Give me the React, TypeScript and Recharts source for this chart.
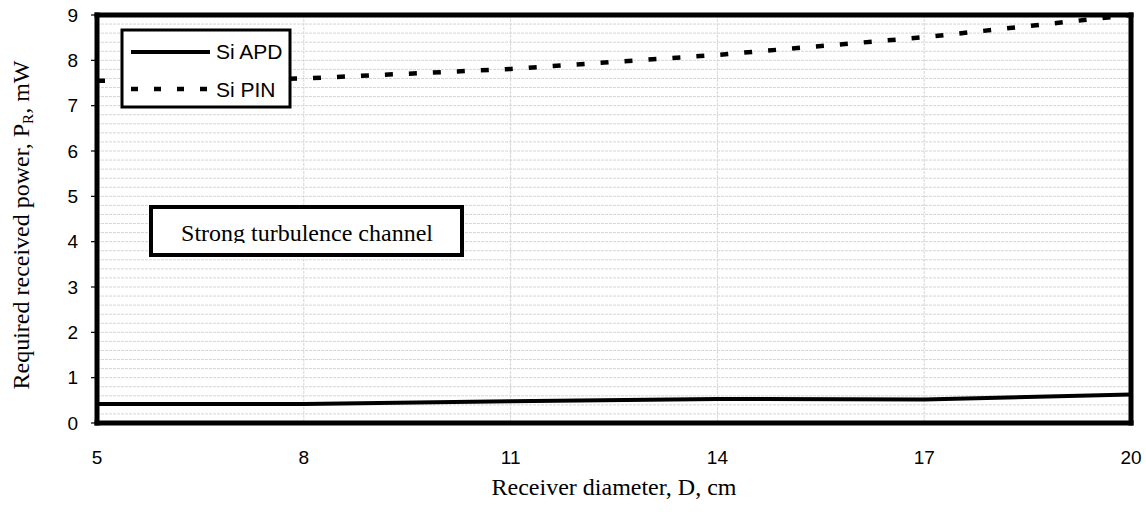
import { LineChart, Line, XAxis, YAxis, CartesianGrid } from "recharts";

// receiver diameter D (cm) at the computed points
const diameters = [5, 8, 11, 14, 17, 20];
// required received power P_R (mW)
const siApd = [0.42, 0.42, 0.48, 0.53, 0.52, 0.63];
const siPin = [7.55, 7.6, 7.81, 8.12, 8.51, 9.0];

const xTicks = [5, 8, 11, 14, 17, 20];
const yTicks = [0, 1, 2, 3, 4, 5, 6, 7, 8, 9];
const gridX = [8, 11, 14, 17];
// minor horizontal grid every 0.2 mW
const gridY = Array.from({ length: 46 }, (_, i) => Math.round(i * 2) / 10);

const data = diameters.map((d, i) => ({ d, apd: siApd[i], pin: siPin[i] }));

const SANS = "'Liberation Sans', Arial, sans-serif";
const SERIF = "'Liberation Serif', 'Times New Roman', serif";

const W = 1146;
const H = 515;
const MARGIN = { top: 15, right: 15, bottom: 0, left: 0 };
const AXIS_W = 97;
const AXIS_H = 92;
const FRAME = 5;

const hLines = ({ yAxis, offset }: any) =>
  gridY.map((v) =>
    yAxis && typeof yAxis.scale === "function"
      ? yAxis.scale(v)
      : offset.top + offset.height * (1 - v / 9)
  );

const vLines = ({ xAxis, offset }: any) =>
  gridX.map((v) =>
    xAxis && typeof xAxis.scale === "function"
      ? xAxis.scale(v)
      : offset.left + (offset.width * (v - 5)) / 15
  );

export default function App() {
  const left = MARGIN.left + AXIS_W;
  const top = MARGIN.top;
  const right = W - MARGIN.right;
  const bottom = H - AXIS_H - MARGIN.bottom;
  const half = FRAME / 2;

  return (
    <div style={{ position: "absolute", left: 0, top: 0, width: W, height: H, background: "#fff" }}>
      <LineChart width={W} height={H} data={data} margin={MARGIN}>
        <CartesianGrid
          horizontalCoordinatesGenerator={hLines}
          verticalCoordinatesGenerator={vLines}
          stroke="#d6d6d6"
          strokeDasharray="3 1"
        />
        <XAxis
          dataKey="d"
          type="number"
          domain={[5, 20]}
          ticks={xTicks}
          height={AXIS_H}
          axisLine={false}
          tickLine={false}
          tickSize={6}
          tickMargin={22}
          tick={{ fontSize: 19, fontFamily: SANS, fill: "#000" }}
        />
        <YAxis
          type="number"
          domain={[0, 9]}
          ticks={yTicks}
          width={AXIS_W}
          axisLine={false}
          tickLine={false}
          tickSize={5}
          tickMargin={14}
          tick={{ fontSize: 19, fontFamily: SANS, fill: "#000" }}
        />
        <Line
          dataKey="apd"
          type="linear"
          stroke="#000"
          strokeWidth={4}
          dot={false}
          isAnimationActive={false}
        />
        <Line
          dataKey="pin"
          type="linear"
          stroke="#000"
          strokeWidth={4.5}
          strokeDasharray="8 16"
          dot={false}
          isAnimationActive={false}
        />
      </LineChart>

      {/* plot frame, legend, note box and axis titles sit above the plot */}
      <svg width={W} height={H} style={{ position: "absolute", left: 0, top: 0, pointerEvents: "none" }}>
        <defs>
          <clipPath id="noteClip">
            <rect x={150} y={206} width={313} height={37} />
          </clipPath>
        </defs>

        {/* thick black frame around the plot area */}
        <rect x={left - half} y={top - half} width={right - left + FRAME} height={FRAME} fill="#000" />
        <rect x={left - half} y={bottom - half} width={right - left + FRAME} height={FRAME} fill="#000" />
        <rect x={left - half} y={top - half} width={FRAME} height={bottom - top + FRAME} fill="#000" />
        <rect x={right - half} y={top - half} width={FRAME} height={bottom - top + FRAME} fill="#000" />
        {yTicks.map((v) => (
          <rect
            key={v}
            x={left - 6}
            y={top + (bottom - top) * (1 - v / 9) - 0.6}
            width={6}
            height={1.2}
            fill="#000"
          />
        ))}

        <rect x={122} y={30} width={168} height={77} fill="#fff" stroke="#000" strokeWidth={3} />
        <line x1={131} y1={52} x2={210} y2={52} stroke="#000" strokeWidth={4} />
        <text x={216} y={59} fontSize={21} fontFamily={SANS}>
          Si APD
        </text>
        <line x1={131} y1={89} x2={210} y2={89} stroke="#000" strokeWidth={4.5} strokeDasharray="7 16" />
        <text x={216} y={97} fontSize={21} fontFamily={SANS}>
          Si PIN
        </text>

        <rect x={151} y={207} width={311} height={48} fill="#fff" stroke="#000" strokeWidth={4} />
        <text
          x={307}
          y={241}
          textAnchor="middle"
          fontSize={24}
          fontFamily={SERIF}
          clipPath="url(#noteClip)"
        >
          Strong turbulence channel
        </text>

        <text x={614} y={495} textAnchor="middle" fontSize={24} fontFamily={SERIF}>
          Receiver diameter, D, cm
        </text>
        <text
          x={0}
          y={0}
          transform="translate(29, 225) rotate(-90)"
          textAnchor="middle"
          fontSize={24}
          fontFamily={SERIF}
        >
          Required received power, P<tspan fontSize={15} dy={4}>R</tspan>
          <tspan dy={-4}>, mW</tspan>
        </text>
      </svg>
    </div>
  );
}
